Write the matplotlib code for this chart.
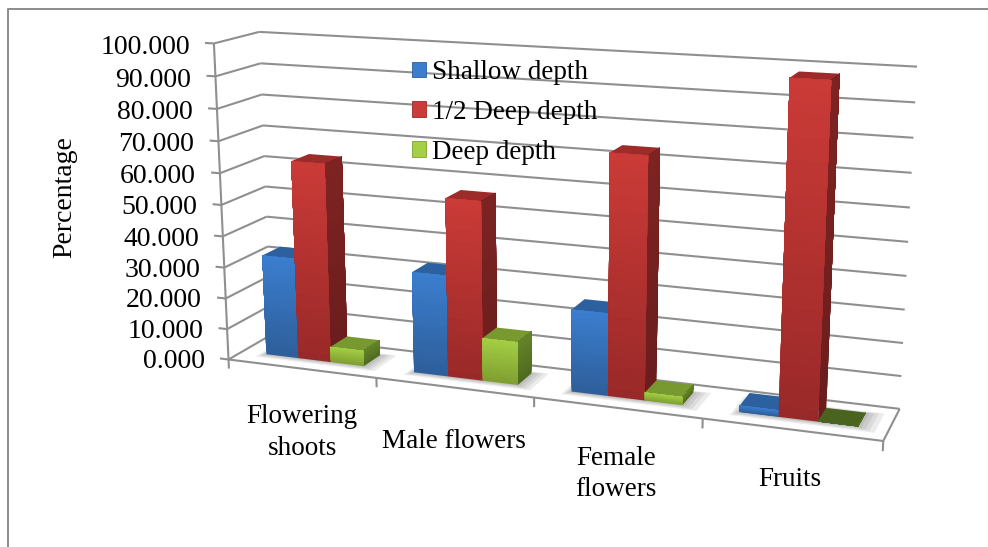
import numpy as np
import matplotlib
matplotlib.use("Agg")
import matplotlib.pyplot as plt
from matplotlib.colors import to_rgb
from matplotlib.lines import Line2D
from matplotlib.patches import Patch
from mpl_toolkits.mplot3d import proj3d
from mpl_toolkits.mplot3d.art3d import Poly3DCollection

plt.rcParams["font.family"] = ["Liberation Serif", "DejaVu Serif"]

categories = ["Flowering\nshoots", "Male flowers", "Female\nflowers", "Fruits"]
series_names = ["Shallow depth", "1/2 Deep depth", "Deep depth"]
shallow = [32.5, 32.0, 25.5, 2.0]
half_deep = [63.5, 56.0, 73.5, 98.0]
deep = [5.0, 13.5, 2.5, 0.2]
z_ticks = [0, 10, 20, 30, 40, 50, 60, 70, 80, 90, 100]
label_shift = [(1, 64), (0, 54), (-1, 66), (-2, 50)]

# (front top, front bottom, side top, side bottom, top face)
palette = [
    ("#3b7ed0", "#2e5f9b", "#24527f", "#1d4268", "#2c609e"),
    ("#cc3b37", "#992928", "#7e2423", "#691d1c", "#9c2b2a"),
    ("#a5cf45", "#7f9f31", "#66852a", "#4f6a20", "#77992f"),
]

GRID = "#8f8f8f"
W, H = 988, 547
side = 756.9

fig = plt.figure(figsize=(W / 100, H / 100), dpi=100, facecolor="white")
ax = fig.add_axes([161.55 / W, -64.32 / H, side / W, side / H], projection="3d")
ax.set_xlim(0, 4)
ax.set_ylim(0, 1)
ax.set_zlim(0, 100)
ax.view_init(elev=13.902, azim=-69.781)
ax.set_proj_type("persp", focal_length=0.4298)
ax.set_box_aspect((7.4785, 1, 3.6343))
ax.set_axis_off()
ax.computed_zorder = False
ax.patch.set_alpha(0)


def line(x, y, z, lw=1.5):
    ax.plot(x, y, z, color=GRID, lw=lw, zorder=1, clip_on=False, solid_capstyle="butt")


def face(verts, color, zorder, alpha=1.0):
    poly = Poly3DCollection([verts], facecolors=[(*to_rgb(color), alpha)],
                            edgecolors="none", linewidths=0, zorder=zorder)
    poly.set_snap(False)
    ax.add_collection3d(poly)


def mix(a, b, t):
    return tuple((1 - t) * np.array(to_rgb(a)) + t * np.array(to_rgb(b)))


def label(text, x, y, z, dx, dy, size, **kw):
    # 3D point to the 2D data coordinates of the axes, then a shift in pixels
    u, v, _ = proj3d.proj_transform(x, y, z, ax.get_proj())
    ax.annotate(text, xy=(u, v), xycoords="data", xytext=(dx, -dy), textcoords="offset pixels",
                va="center", fontsize=size, annotation_clip=False, zorder=5000, **kw)


# walls and floor outline
for t in z_ticks:
    line([0, 0], [0, 1], [t, t])
    line([0, 4], [1, 1], [t, t])
    line([0, -0.06], [0, 0], [t, t])
line([0, 0], [0, 0], [0, 100])
line([0, 4], [0, 0], [0, 0])
line([4, 4], [0, 1], [0, 0])
for i in range(5):
    line([i, i], [0, 0], [0, -3])

# soft shadow on the floor
for i in range(4):
    for m in [0.10, 0.07, 0.045, 0.02]:
        x0, x1 = i + 1 / 6 - m * 0.4, i + 5 / 6 + m
        y0, y1 = 0.32 - m * 1.2, 0.74 + m * 0.6
        face([(x0, y0, 0), (x1, y0, 0), (x1, y1, 0), (x0, y1, 0)], "#555555", 2, alpha=0.11)

# bars, drawn back to front
order = 10
for i in range(4):
    for s, vals in enumerate([shallow, half_deep, deep]):
        v = vals[i]
        ft, fb, st, sb, tp = palette[s]
        if v < 0.5:
            tp = ft = fb = "#4a6420"
        x0 = i + 1 / 6 + s * 2 / 9
        x1 = x0 + 2 / 9
        y0, y1 = 0.32, 0.74
        levels = np.linspace(0, v, 31)[:-1]
        order += 1
        face([(x0, y0, v), (x1, y0, v), (x1, y1, v), (x0, y1, v)], tp, order)
        # each band runs up to the top of the bar and the next one paints over it
        for z0 in levels:
            t = 1 - z0 / max(v, 1e-6)
            order += 1
            face([(x1, y0, z0), (x1, y1, z0), (x1, y1, v), (x1, y0, v)], mix(st, sb, t), order)
        for z0 in levels:
            t = 1 - z0 / max(v, 1e-6)
            order += 1
            face([(x0, y0, z0), (x1, y0, z0), (x1, y0, v), (x0, y0, v)], mix(ft, fb, t), order)

# tick labels
for t in z_ticks:
    label(f"{t:.3f}", 0, 0, t, -24, 2 + 2 * t / 100, 20, ha="right")
for i, name in enumerate(categories):
    label(name, i + 0.5, 0, 0, label_shift[i][0], label_shift[i][1], 19.5, ha="center", linespacing=1.35)

fig.text(65 / W, 1 - 197 / H, "Percentage", rotation=90, ha="center", va="center", fontsize=20)

handles = [Patch(facecolor=palette[s][0], edgecolor=palette[s][1], lw=0.6) for s in range(3)]
fig.legend(handles, series_names, loc="upper left", bbox_to_anchor=(412 / W, 1 - 60 / H),
           frameon=False, fontsize=19.5, borderaxespad=0, borderpad=0,
           handlelength=0.52, handleheight=0.52, handletextpad=0.2, labelspacing=0.55)

# outer frame, cropped on the right and at the bottom
fig.add_artist(Line2D([7.5 / W, 7.5 / W, 1], [0, 1 - 8.5 / H, 1 - 8.5 / H], color="#8c8c8c", lw=1.4))

fig.savefig("out.png", dpi=100, facecolor="white")
